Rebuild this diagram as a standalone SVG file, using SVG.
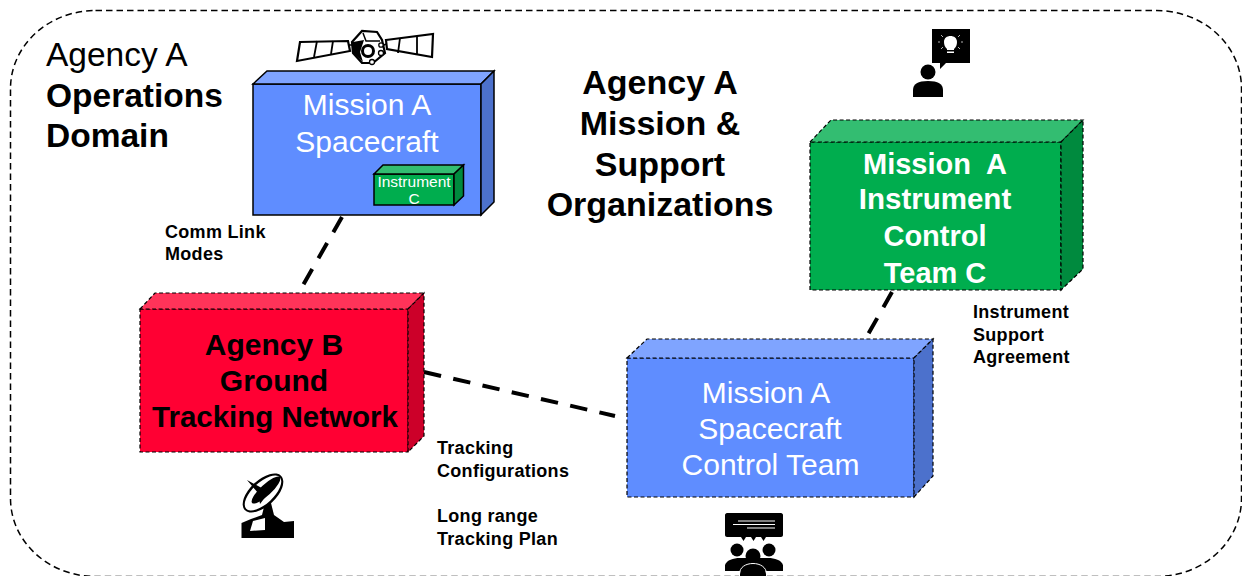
<svg xmlns="http://www.w3.org/2000/svg" width="1242" height="576" viewBox="0 0 1242 576">
<style>
text{font-family:"Liberation Sans",Arial,sans-serif;text-anchor:middle}
.e{stroke:#000;stroke-linejoin:miter}
.d{stroke-width:1.2;stroke-dasharray:4 2.5}
.s{stroke-width:1.500}
.lbl{font-size:18px;font-weight:700;text-anchor:start;fill:#000;letter-spacing:.3px}
.big{font-size:30px;fill:#fff}
.ico{fill:#000;stroke:none}
</style>
<rect id="domain" x="10.500" y="10.500" width="1231" height="566" rx="85" ry="78" fill="#fff" stroke="#000" stroke-width="1.500" stroke-dasharray="6.500 4"/>
<g id="connectors" fill="none" stroke="#000" stroke-width="4" stroke-dasharray="17.500 12.500">
<path d="M342 217L302 287"/>
<path d="M424 372L615 416"/>
<path d="M892 292L866 338"/>
</g>
<g id="domain-label" font-size="33.500">
<text x="46" y="66" style="text-anchor:start">Agency A</text>
<text x="46" y="107" font-weight="700" style="text-anchor:start">Operations</text>
<text x="46" y="147" font-weight="700" style="text-anchor:start">Domain</text>
</g>
<g id="org-label" font-weight="700" font-size="34">
<text x="660" y="94">Agency A</text>
<text x="660" y="135">Mission &amp;</text>
<text x="660" y="176">Support</text>
<text x="660" y="216">Organizations</text>
</g>
<g id="spacecraft">
<path class="e s" fill="#5f8dff" d="M253 84H481V215H253Z"/>
<path class="e s" fill="#7fa4ff" d="M253 84L267 71H494L481 84Z"/>
<path class="e s" fill="#4c71cc" d="M481 84L494 71V202L481 215Z"/>
<text class="big" x="367" y="115">Mission A</text>
<text class="big" x="367" y="152">Spacecraft</text>
</g>
<g id="instrument">
<path class="e s" fill="#00ad4e" d="M374 174H454V205H374Z"/>
<path class="e s" fill="#33bd71" d="M374 174L383 165H463.500L454 174Z"/>
<path class="e s" fill="#008a3e" d="M454 174L463.500 165V196L454 205Z"/>
<text x="414" y="187" font-size="15.500" fill="#fff">Instrument</text>
<text x="414" y="204" font-size="15.500" fill="#fff">C</text>
</g>
<g id="icon-satellite">
<path fill="#fff" stroke="#000" stroke-width="2.200" d="M300 42L348 41L350 51L297 61ZM386 40L433 34L432 57L387 49Z"/>
<path fill="none" stroke="#000" stroke-width="1.800" d="M317 41L314 57M333 41L331 54M400 38L398 53M417 36L417 55"/>
<path fill="#fff" stroke="#000" stroke-width="2.200" d="M352 42L362 31L377 32L382 40L385 53L373 63L362 63L353 53Z"/>
<path class="ico" d="M353 42L364 40L360 52L363 62L353 53Z"/>
<circle cx="368" cy="51" r="5.500" fill="#fff" stroke="#000" stroke-width="3"/>
<path fill="none" stroke="#000" stroke-width="1.500" d="M363 33L366 41L380 41M349 45H353M382 46L386 44"/>
<circle cx="372" cy="62" r="2.500" fill="#fff" stroke="#000" stroke-width="1.300"/>
<circle cx="381" cy="53" r="2.500" fill="#fff" stroke="#000" stroke-width="1.300"/>
<circle cx="381" cy="45" r="2.200" fill="#fff" stroke="#000" stroke-width="1.300"/>
</g>
<g id="instrument-team">
<path class="e d" fill="#00ad4e" d="M810 142H1061V290H810Z"/>
<path class="e d" fill="#33bd71" d="M810 142L831 120H1083L1061 142Z"/>
<path class="e d" fill="#008a3e" d="M1061 142L1083 120V269L1061 290Z"/>
<g font-size="29" font-weight="700" fill="#fff">
<text x="935" y="174" xml:space="preserve">Mission  A</text>
<text x="935" y="209" font-size="29.500">Instrument</text>
<text x="935" y="246">Control</text>
<text x="935" y="283">Team C</text>
</g>
</g>
<g id="icon-person">
<path class="ico" d="M932 29H970V63H946L940 69V63H932Z"/>
<circle cx="928" cy="72" r="7.500" class="ico"/>
<path class="ico" d="M913 97V90Q913 81 928 81Q943 81 943 90V97Z"/>
<path fill="#fff" d="M947 49C945 47 944 45 944 42C944 38 947 36 950.500 36C954 36 957 38 957 42C957 45 956 47 954 49V50H947ZM947 51.500H954V53H947Z"/>
<path stroke="#fff" stroke-width=".700" fill="none" d="M941 35L943 37M960 35L958 37M938 42H940M963 42H961M941 49L943 47M960 49L958 47"/>
</g>
<g id="tracking-network">
<path class="e d" fill="#ff0033" d="M140 309H408V452H140Z"/>
<path class="e d" fill="#ff3359" d="M140 309L155 293H424L408 309Z"/>
<path class="e d" fill="#cc0029" d="M408 309L424 293V436L408 452Z"/>
<g font-size="30" font-weight="700" fill="#000">
<text x="274" y="355">Agency B</text>
<text x="274" y="391">Ground</text>
<text x="275" y="427" font-size="29.500">Tracking Network</text>
</g>
</g>
<g id="icon-dish">
<path class="ico" d="M241.500 538V523L251 519L262 515L265 503L271 503L274 515L284 522L294 521V538Z"/>
<path fill="#fff" d="M250 531L253 521L265 518L265 530Z"/>
<ellipse cx="263" cy="493" rx="25" ry="13" transform="rotate(-43 263 493)" class="ico"/>
<ellipse cx="263" cy="493" rx="23" ry="10.500" transform="rotate(-43 263 493)" fill="#fff"/>
<ellipse cx="266" cy="490" rx="19" ry="5.500" transform="rotate(-43 266 490)" class="ico"/>
<path class="ico" d="M247 480L269 492L260 504L258 493Z"/>
</g>
<g id="control-team">
<path class="e d" fill="#5f8dff" d="M627 358H914V497H627Z"/>
<path class="e d" fill="#7fa4ff" d="M627 358L647 339H933L914 358Z"/>
<path class="e d" fill="#4c71cc" d="M914 358L933 339V476L914 497Z"/>
<text class="big" x="766" y="403">Mission A</text>
<text class="big" x="770" y="439">Spacecraft</text>
<text class="big" x="770.500" y="475">Control Team</text>
</g>
<g id="icon-team">
<path class="ico" d="M727 513H781C782 513 783 514 783 515V535C783 536 782 537 781 537H766L763.500 541L761 537H756L753.500 541L751 537H746L743.500 541L741 537H727C726 537 725 536 725 535V515C725 514 726 513 727 513Z"/>
<path stroke="#fff" fill="none" d="M738 521H775M733 524.500H775M747 528H775"/>
<circle cx="737" cy="550" r="6.500" class="ico"/>
<circle cx="769" cy="550" r="6.500" class="ico"/>
<path class="ico" d="M725 571V565C727 560 733 558 740 558C747 558 765 558 768 558C775 558 781 560 783 565V571Z"/>
<circle cx="753" cy="556" r="7.500" class="ico" stroke="#fff" stroke-width="1"/>
<path d="M740 576V574C740 568 746 564 753 564C760 564 766 568 766 574V576Z" class="ico" stroke="#fff"/>
<path d="M739.500 576V574C739.500 567 746 563.500 753 563.500C760 563.500 766.500 567 766.500 574V576" fill="none" stroke="#fff"/>
</g>
<g id="labels">
<text class="lbl" x="165" y="238">Comm Link</text>
<text class="lbl" x="165" y="260">Modes</text>
<text class="lbl" x="973" y="318">Instrument</text>
<text class="lbl" x="973" y="341">Support</text>
<text class="lbl" x="973" y="363">Agreement</text>
<text class="lbl" x="437" y="454">Tracking</text>
<text class="lbl" x="437" y="477">Configurations</text>
<text class="lbl" x="437" y="522">Long range</text>
<text class="lbl" x="437" y="545">Tracking Plan</text>
</g>
</svg>
